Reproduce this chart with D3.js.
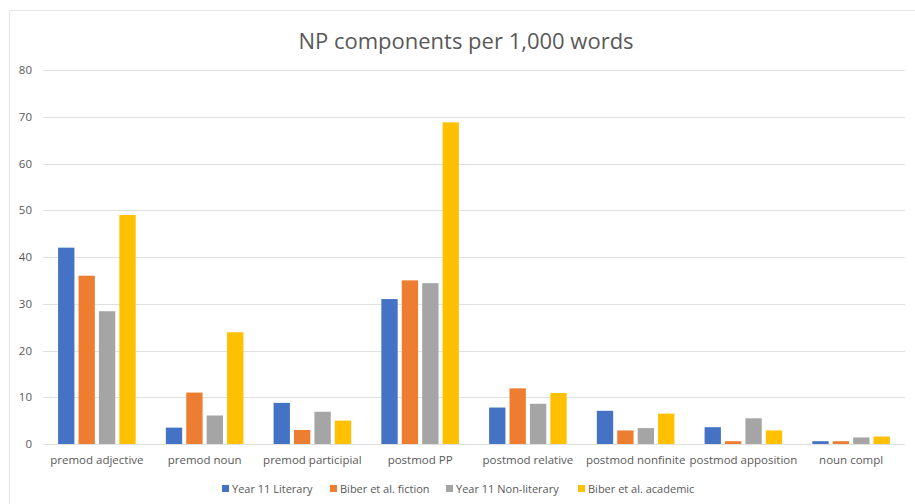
<!DOCTYPE html>
<html>
<head>
<meta charset="utf-8">
<script src="https://cdn.jsdelivr.net/npm/d3@7/dist/d3.min.js"></script>
<style>
  html, body { margin: 0; padding: 0; background: #fff; }
  svg { display: block; font-family: "Open Sans", "Liberation Sans", sans-serif; }
</style>
</head>
<body>
<svg id="chart" width="915" height="504"></svg>
<script>
// NP components per 1,000 words, by corpus
const categories = [
  "premod adjective", "premod noun", "premod participial", "postmod PP",
  "postmod relative", "postmod nonfinite", "postmod apposition", "noun compl"
];
const seriesNames = [
  "Year 11 Literary", "Biber et al. fiction", "Year 11 Non-literary", "Biber et al. academic"
];
const year11Literary     = [42, 3.5, 8.8, 31, 7.8, 7.1, 3.6, 0.6];
const biberFiction       = [36, 11, 3.0, 35, 11.9, 2.9, 0.6, 0.6];
const year11NonLiterary  = [28.4, 6.1, 6.9, 34.4, 8.6, 3.4, 5.5, 1.4];
const biberAcademic      = [49, 23.9, 5.0, 68.8, 10.9, 6.5, 2.9, 1.6];
const yTicks = [0, 10, 20, 30, 40, 50, 60, 70, 80];
const colors = ["#4472C4", "#ED7D31", "#A5A5A5", "#FFC000"];

const seriesValues = [year11Literary, biberFiction, year11NonLiterary, biberAcademic];
const rows = categories.map((c, i) => ({
  category: c,
  values: seriesNames.map((s, k) => ({ series: s, value: seriesValues[k][i], k }))
}));

const svg = d3.select("#chart");
const W = 915, H = 504;
const plot = { left: 43, right: 905, top: 70, bottom: 444 };

// chart frame
svg.append("path")
  .attr("d", `M9.5,${H} V10.5 H${W}`)
  .attr("fill", "none").attr("stroke", "#e6e6e6").attr("stroke-width", 1.2);

const x0 = d3.scaleBand().domain(categories)
  .range([plot.left, plot.right]).paddingInner(0.28).paddingOuter(0.14);
const x1 = d3.scaleBand().domain(seriesNames)
  .range([0, x0.bandwidth()]).paddingInner(0.2);
const y = d3.scaleLinear().domain([0, 80]).range([plot.bottom, plot.top]);

// gridlines
svg.append("g").selectAll("line").data(yTicks).join("line")
  .attr("x1", plot.left).attr("x2", plot.right)
  .attr("y1", d => Math.round(y(d)) + 0.5).attr("y2", d => Math.round(y(d)) + 0.5)
  .attr("stroke", "#e0e0e0").attr("stroke-width", 1);

// y tick labels
const yAxis = svg.append("g").attr("transform", `translate(${plot.left},0)`)
  .call(d3.axisLeft(y).tickValues(yTicks).tickSize(0).tickPadding(11));
yAxis.select(".domain").remove();
yAxis.selectAll("text").attr("fill", "#595959").style("font-size", "11.5px")
  .style("font-family", "\"Open Sans\", sans-serif");

// bars
const groups = svg.append("g").selectAll("g").data(rows).join("g")
  .attr("transform", d => `translate(${x0(d.category)},0)`);
groups.selectAll("rect").data(d => d.values).join("rect")
  .attr("x", d => x1(d.series))
  .attr("width", x1.bandwidth())
  .attr("y", d => y(d.value))
  .attr("height", d => y(0) - y(d.value))
  .attr("fill", d => colors[d.k]);

// category labels
const xAxis = svg.append("g").attr("transform", `translate(0,${plot.bottom})`)
  .call(d3.axisBottom(x0).tickSize(0).tickPadding(12));
xAxis.select(".domain").remove();
xAxis.selectAll("text").attr("fill", "#595959").style("font-size", "11.5px")
  .style("font-family", "\"Open Sans\", sans-serif");

// title
svg.append("text")
  .attr("x", 466).attr("y", 49).attr("text-anchor", "middle")
  .attr("fill", "#595959").style("font-size", "22px")
  .text("NP components per 1,000 words");

// legend
const legendX = [222, 330, 446, 578];
const legend = svg.append("g").selectAll("g").data(seriesNames).join("g")
  .attr("transform", (d, i) => `translate(${legendX[i]},489)`);
legend.append("rect").attr("x", 0).attr("y", -4).attr("width", 7).attr("height", 7)
  .attr("fill", (d, i) => colors[i]);
legend.append("text").attr("x", 10).attr("y", 4)
  .attr("fill", "#595959").style("font-size", "11px")
  .text(d => d);
</script>
</body>
</html>
